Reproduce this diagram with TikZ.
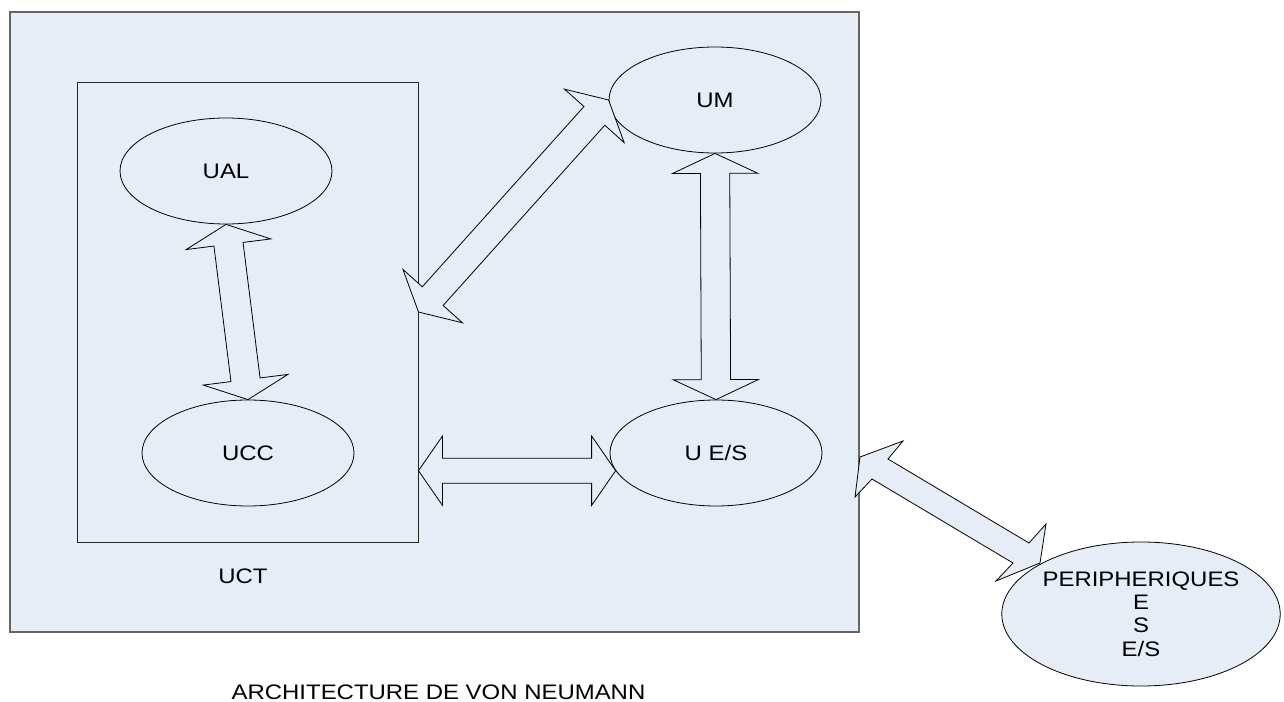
\documentclass[tikz,border=0pt]{standalone}
\usepackage{fontspec}
\setmainfont[FakeStretch=1.14]{Liberation Sans}
\usetikzlibrary{calc,shapes.geometric}
\definecolor{bgblue}{RGB}{230,237,247}
\tikzset{
  unit/.style={ellipse,draw=black,line width=0.6pt,fill=bgblue,inner sep=0pt,
    minimum width=159pt,minimum height=79.5pt,align=center},
  blockarrow/.style={draw=black,line width=0.6pt,fill=bgblue,line join=miter},
  lbl/.style={inner sep=0pt,align=center},
}
\newcommand\blockarrow[5]{%
  \coordinate (ba1) at ($(#1)!#3!(#2)$);
  \coordinate (ba2) at ($(#2)!#3!(#1)$);
  \draw[blockarrow] (#1) -- ($(ba1)!#4!90:(#2)$) -- ($(ba1)!#5!90:(#2)$)
    -- ($(ba2)!#5!-90:(#1)$) -- ($(ba2)!#4!-90:(#1)$) -- (#2)
    -- ($(ba2)!#4!90:(#1)$) -- ($(ba2)!#5!90:(#1)$)
    -- ($(ba1)!#5!-90:(#2)$) -- ($(ba1)!#4!-90:(#2)$) -- cycle;
}
\begin{document}
\begin{tikzpicture}[x=0.75pt,y=-0.75pt,font=\fontsize{15.75}{17.5}\selectfont]
\useasboundingbox (0,0) rectangle (1284,702);
% outer box
\node[draw=black!60,line width=1.1pt,fill=bgblue,minimum width=636.75pt,minimum height=465pt,inner sep=0pt] (outer) at (434.5,322) {};
% inner UCT box
\node[draw=black!85,line width=0.7pt,fill=bgblue,minimum width=255.75pt,minimum height=345pt,inner sep=0pt] (uct) at (247.5,312) {};
\node[lbl] (uctl) at (243,576) {UCT};
% units
\node[unit] (ual) at (226,171) {UAL};
\node[unit] (ucc) at (248,453) {UCC};
\node[unit] (um) at (715,100) {UM};
\node[unit] (ues) at (716,453) {U E/S};
\node[unit,minimum width=204pt,minimum height=108pt] (peri) at (1141,614) {PERIPHERIQUES\\E\\S\\E/S};
% helper coordinates
\coordinate (y312) at (0,312);
\coordinate (a2) at (uct.east |- y312);
\coordinate (a4r) at (ues.190);
\coordinate (a4l) at (uct.east |- a4r);
% arrows
\blockarrow{ual.south}{ucc.north}{15pt}{32pt}{11pt}
\blockarrow{a2}{um.west}{16pt}{30pt}{10.5pt}
\blockarrow{um.south}{ues.north}{15pt}{32pt}{11pt}
\blockarrow{a4l}{a4r}{18pt}{26pt}{9.4pt}
% skewed peripheral arrow
\coordinate (pa) at (860,457);
\coordinate (pb) at (1040,563);
\draw[blockarrow] (pa) -- (903,441) -- (888,459) -- (1029,543) -- (1046,524)
  -- (pb) -- (996,581) -- (1013,563) -- (872,479) -- (855,497) -- cycle;
% title
\node[lbl] (title) at (438.5,692.5) {ARCHITECTURE DE VON NEUMANN};
\end{tikzpicture}
\end{document}
